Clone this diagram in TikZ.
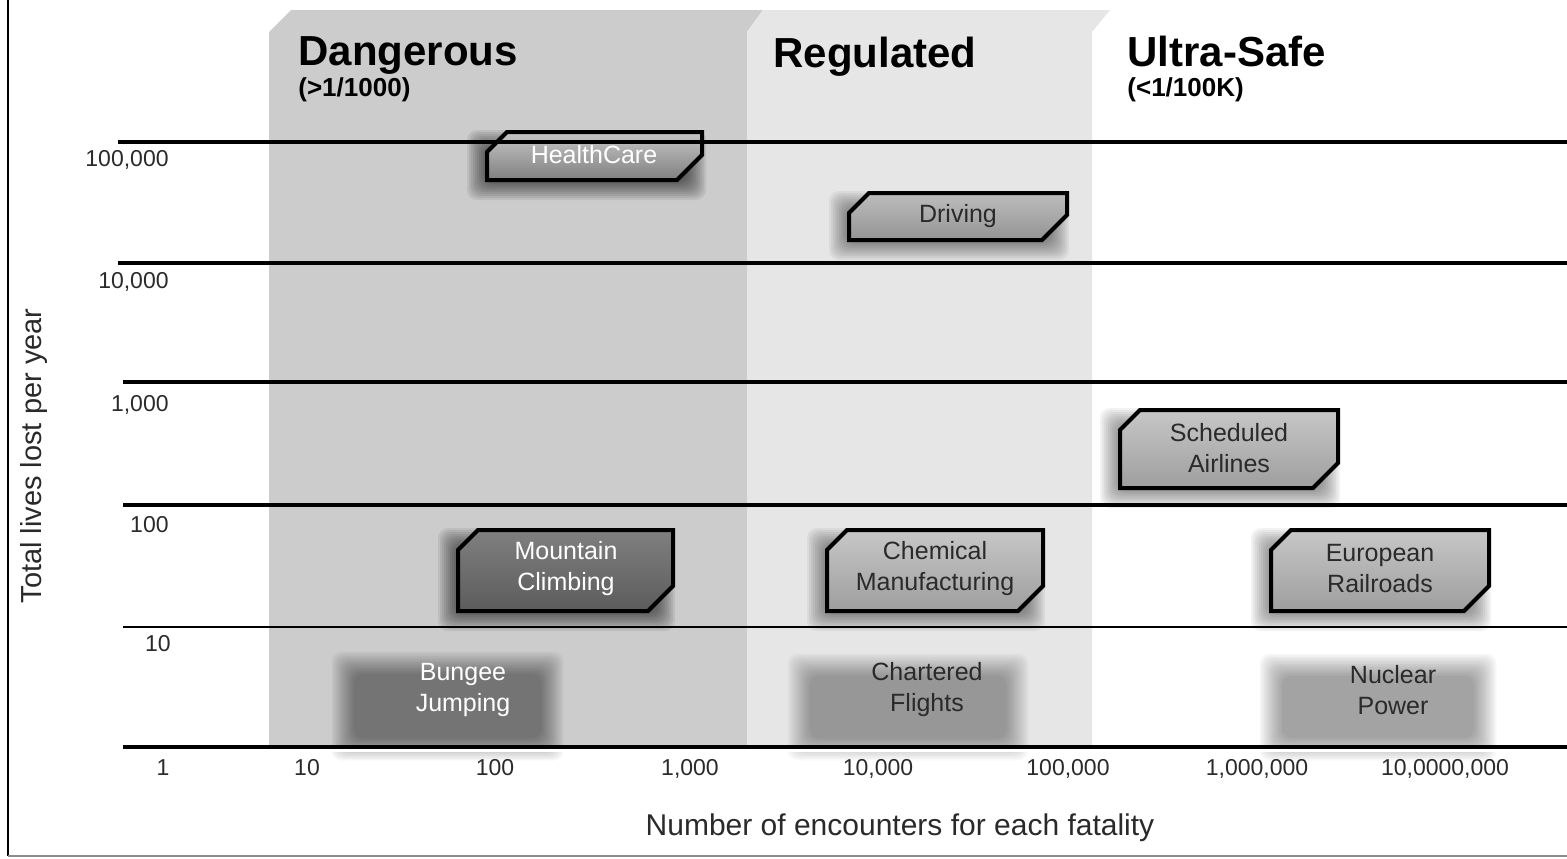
\documentclass[tikz,border=0pt]{standalone}
\usepackage{fontspec}
\setmainfont{Liberation Sans}

\definecolor{dangerband}{HTML}{CCCCCC}
\definecolor{regband}{HTML}{E6E6E6}
\definecolor{inkgray}{HTML}{2A2A2A}

% soft rectangular patch: #1 total opacity, #2..#5 outer corners, #6 layers, #7 inset per layer
\newcommand\softpatch[7]{%
  \pgfmathsetmacro\layeralpha{1-(1-#1)^(1/#6)}%
  \foreach \k in {1,...,#6}{%
    \fill[black, fill opacity=\layeralpha, rounded corners=5]
      ({#2+#7*\k},{#3+#7*\k}) rectangle ({#4-#7*\k},{#5-#7*\k});
  }%
}
% box with the upper left and lower right corners cut off
\newcommand\riskshape[5]{%
  \draw[#1] (#2,{#3+20}) -- ({#2+20},#3) -- (#4,#3) -- (#4,{#5-25})
    -- ({#4-25},#5) -- (#2,#5) -- cycle;
}

\begin{document}
\begin{tikzpicture}[x=0.5pt,y=-0.5pt,
  gridline/.style={line width=2pt,black},
  thingrid/.style={line width=1pt,black},
  ticklabel/.style={font=\fontsize{11.5}{14}\selectfont,text=inkgray,inner sep=0pt},
  header/.style={font=\bfseries\fontsize{21}{25}\selectfont,inner sep=0pt,anchor=base west},
  subheader/.style={font=\bfseries\fontsize{13}{16}\selectfont,inner sep=0pt,anchor=base west},
  boxline/.style={draw=black, line width=2pt, line join=miter},
  lightfill/.style={boxline, top color=black!22, bottom color=black!38},
  labeltext/.style={align=center, inner sep=0pt, font=\fontsize{12.5}{15.5}\selectfont}
]
\useasboundingbox (0,0) rectangle (1567,858);

% outer frame
\draw[line width=1pt, black] (8,0) -- (8,856);
\draw[line width=1pt, black!45] (8,856) -- (1567,856);

% category bands
\fill[dangerband] (269,32) -- (291,10) -- (763,10) -- (747,32) -- (747,747) -- (269,747) -- cycle;
\fill[regband] (747,32) -- (763,10) -- (1110,10) -- (1092,32) -- (1092,747) -- (747,747) -- cycle;

% band headings
\node[header] (dang) at (298,65) {Dangerous};
\node[subheader] (dangsub) at (298,96) {(>1/1000)};
\node[header] (reg) at (773,67) {Regulated};
\node[header] (safe) at (1127,66) {Ultra-Safe};
\node[subheader] (safesub) at (1127,96) {(<1/100K)};

% soft patches of the bottom row
\softpatch{0.42}{330}{650}{565}{762}{16}{1.5}
\softpatch{0.34}{786}{652}{1030}{762}{16}{1.5}
\softpatch{0.36}{1258}{652}{1498}{762}{16}{1.5}

% shadows under the boxes
\softpatch{0.58}{465}{128}{708}{202}{12}{2}
\softpatch{0.48}{827}{189}{1071}{262}{12}{2}
\softpatch{0.48}{1098}{406}{1342}{510}{12}{2}
\softpatch{0.58}{436}{526}{677}{633}{12}{2}
\softpatch{0.48}{805}{526}{1047}{633}{12}{2}
\softpatch{0.48}{1249}{526}{1493}{633}{12}{2}

% activity boxes
\riskshape{boxline, top color=black!22, bottom color=black!50}{487}{132}{702}{180}
\node[labeltext, text=white] (health) at (594,155) {HealthCare};
\riskshape{boxline, top color=black!26, bottom color=black!42}{849}{193}{1067}{240}
\node[labeltext, text=inkgray] (driving) at (958,216) {Driving};
\riskshape{lightfill}{1120}{410}{1338}{488}
\node[labeltext, text=inkgray] (airlines) at (1229,448) {Scheduled\\Airlines};
\riskshape{boxline, top color=black!50, bottom color=black!64}{458}{530}{673}{611}
\node[labeltext, text=white] (mountain) at (566,569) {Mountain\\Climbing};
\riskshape{lightfill}{827}{530}{1043}{611}
\node[labeltext, text=inkgray] (chemical) at (935,569) {Chemical\\Manufacturing};
\riskshape{lightfill}{1271}{530}{1489}{611}
\node[labeltext, text=inkgray] (railroads) at (1380,569) {European\\Railroads};

\node[labeltext, text=white] (bungee) at (463,690) {Bungee\\Jumping};
\node[labeltext, text=inkgray] (charter) at (927,690) {Chartered\\Flights};
\node[labeltext, text=inkgray] (nuclear) at (1393,690) {Nuclear\\Power};

% horizontal scale lines
\draw[gridline] (118,142) -- (1567,142);
\draw[gridline] (118,263) -- (1567,263);
\draw[gridline] (123,382) -- (1567,382);
\draw[gridline] (123,505) -- (1567,505);
\draw[thingrid] (123,627) -- (1567,627);
\draw[line width=2.5pt] (123,747) -- (1567,747);

% white ground below the baseline
\fill[white] (123,749) rectangle (1567,752);

% vertical axis labels
\node[ticklabel, anchor=base east] (y5) at (169,166) {100,000};
\node[ticklabel, anchor=base east] (y4) at (169,288) {10,000};
\node[ticklabel, anchor=base east] (y3) at (169,411) {1,000};
\node[ticklabel, anchor=base east] (y2) at (169,532) {100};
\node[ticklabel, anchor=base east] (y1) at (171,651) {10};

% horizontal axis labels
\node[ticklabel, anchor=base] (x0) at (163,775) {1};
\node[ticklabel, anchor=base] (x1) at (307,775) {10};
\node[ticklabel, anchor=base] (x2) at (495,775) {100};
\node[ticklabel, anchor=base] (x3) at (690,775) {1,000};
\node[ticklabel, anchor=base] (x4) at (878,775) {10,000};
\node[ticklabel, anchor=base] (x5) at (1068,775) {100,000};
\node[ticklabel, anchor=base] (x6) at (1257,775) {1,000,000};
\node[ticklabel, anchor=base] (x7) at (1445,775) {10,0000,000};

% axis titles
\node[font=\fontsize{15}{18}\selectfont, text=inkgray, inner sep=0pt, anchor=base]
  (xtitle) at (900,835) {Number of encounters for each fatality};
\node[font=\fontsize{14.5}{17}\selectfont, text=inkgray, inner sep=0pt, anchor=base,
  rotate=90] (ytitle) at (41,456) {Total lives lost per year};
\end{tikzpicture}
\end{document}
